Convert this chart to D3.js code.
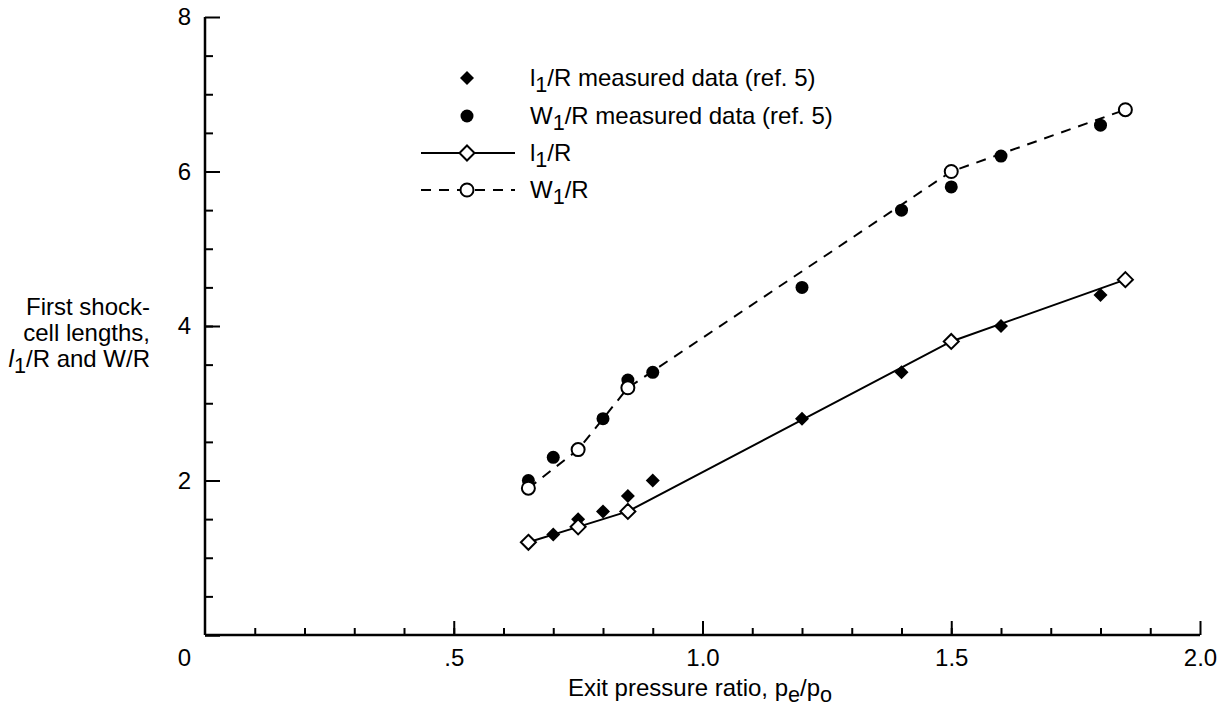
<!DOCTYPE html>
<html>
<head>
<meta charset="utf-8">
<script src="https://cdn.jsdelivr.net/npm/d3@7"></script>
<style>
  body { margin: 0; background: #fff; }
  svg text { font-family: "Liberation Sans", Arial, Helvetica, sans-serif; fill: #000; }
</style>
</head>
<body>
<svg id="chart" width="1225" height="710"></svg>
<script>
// ---- data ----
const measL = [[0.7, 1.3], [0.75, 1.5], [0.8, 1.6], [0.85, 1.8], [0.9, 2.0], [1.2, 2.8], [1.4, 3.4], [1.6, 4.0], [1.8, 4.4]];
const measW = [[0.65, 2.0], [0.7, 2.3], [0.8, 2.8], [0.85, 3.3], [0.9, 3.4], [1.2, 4.5], [1.4, 5.5], [1.5, 5.8], [1.6, 6.2], [1.8, 6.6]];
const calcL = [[0.65, 1.2], [0.75, 1.4], [0.85, 1.6], [1.5, 3.8], [1.85, 4.6]];
const calcW = [[0.65, 1.9], [0.75, 2.4], [0.85, 3.2], [1.5, 6.0], [1.85, 6.8]];
const xMajor = [0.5, 1.0, 1.5, 2.0];
const xMajorLabels = [".5", "1.0", "1.5", "2.0"];
const yMajor = [0, 2, 4, 6, 8];
const yMajorLabels = ["0", "2", "4", "6", "8"];

const FS = 24;
const svg = d3.select("#chart");
const x = d3.scaleLinear().domain([0, 2]).range([205, 1200]);
const y = d3.scaleLinear().domain([0, 8]).range([635, 17]);

// ---- axes ----
const gx = svg.append("g").attr("transform", `translate(0,${y(0)})`);
gx.call(d3.axisBottom(x).tickValues(d3.range(1, 20).map(d => d / 10)).tickSizeInner(-7).tickSizeOuter(0).tickFormat(""));
gx.call(g => g.select(".domain").remove());
const gx2 = svg.append("g").attr("transform", `translate(0,${y(0)})`);
gx2.call(d3.axisBottom(x).tickValues(xMajor).tickSizeInner(-14).tickSizeOuter(0)
  .tickPadding(14).tickFormat((d, i) => xMajorLabels[i]));
gx2.select(".domain").attr("d", `M${x(0)},0H${x(2)}`).attr("stroke-width", 2.5);

const gy = svg.append("g").attr("transform", `translate(${x(0)},0)`);
gy.call(d3.axisLeft(y).tickValues(d3.range(1, 16).map(d => d / 2)).tickSizeInner(-8).tickSizeOuter(0).tickFormat(""));
gy.call(g => g.select(".domain").remove());
const gy2 = svg.append("g").attr("transform", `translate(${x(0)},0)`);
gy2.call(d3.axisLeft(y).tickValues(yMajor).tickSizeInner(-15).tickSizeOuter(0)
  .tickPadding(14).tickFormat((d, i) => yMajorLabels[i]));
gy2.select(".domain").attr("d", `M0,${y(0)}V${y(8)}`).attr("stroke-width", 2.5);

svg.selectAll(".tick line").attr("stroke", "#000").attr("stroke-width", 2);
svg.selectAll(".tick text").attr("font-size", FS).attr("font-family", "Liberation Sans, Arial, sans-serif").attr("fill", "#000");
// corner "0" sits below the origin
gy2.selectAll(".tick text").filter(d => d === 0).attr("dy", "1.25em");
gy2.selectAll(".tick line").filter(d => d === 0).attr("stroke-width", 2.5);

// ---- lines ----
const line = d3.line().x(d => x(d[0])).y(d => y(d[1]));
svg.append("path").datum(calcL).attr("d", line).attr("fill", "none").attr("stroke", "#000").attr("stroke-width", 2);
svg.append("path").datum(calcW).attr("d", line).attr("fill", "none").attr("stroke", "#000").attr("stroke-width", 2).attr("stroke-dasharray", "10,8");

// ---- markers ----
const diamond = r => `M0,${-r}L${r},0L0,${r}L${-r},0Z`;
svg.append("g").selectAll("path").data(measL).join("path")
  .attr("transform", d => `translate(${x(d[0])},${y(d[1])})`).attr("d", diamond(7)).attr("fill", "#000");
svg.append("g").selectAll("circle").data(measW).join("circle")
  .attr("cx", d => x(d[0])).attr("cy", d => y(d[1])).attr("r", 6.5).attr("fill", "#000");
svg.append("g").selectAll("path").data(calcL).join("path")
  .attr("transform", d => `translate(${x(d[0])},${y(d[1])})`).attr("d", diamond(7.5))
  .attr("fill", "#fff").attr("stroke", "#000").attr("stroke-width", 2);
svg.append("g").selectAll("circle").data(calcW).join("circle")
  .attr("cx", d => x(d[0])).attr("cy", d => y(d[1])).attr("r", 6.5)
  .attr("fill", "#fff").attr("stroke", "#000").attr("stroke-width", 2);

// ---- legend ----
const legRows = [
  { main: "l", sub: "1", rest: "/R measured data (ref. 5)", kind: "fdiam" },
  { main: "W", sub: "1", rest: "/R measured data (ref. 5)", kind: "fcirc" },
  { main: "l", sub: "1", rest: "/R", kind: "odiam" },
  { main: "W", sub: "1", rest: "/R", kind: "ocirc" }
];
const legY = [78, 116, 153, 190];
const lg = svg.append("g");
legRows.forEach((r, i) => {
  const cy = legY[i], mx = 467;
  if (r.kind === "odiam" || r.kind === "ocirc") {
    lg.append("line").attr("x1", 421).attr("x2", 515).attr("y1", cy).attr("y2", cy)
      .attr("stroke", "#000").attr("stroke-width", 2)
      .attr("stroke-dasharray", r.kind === "ocirc" ? "10,8" : null);
  }
  if (r.kind === "fdiam") lg.append("path").attr("transform", `translate(${mx},${cy})`).attr("d", diamond(7)).attr("fill", "#000");
  if (r.kind === "fcirc") lg.append("circle").attr("cx", mx).attr("cy", cy).attr("r", 6.5).attr("fill", "#000");
  if (r.kind === "odiam") lg.append("path").attr("transform", `translate(${mx},${cy})`).attr("d", diamond(7.5)).attr("fill", "#fff").attr("stroke", "#000").attr("stroke-width", 2);
  if (r.kind === "ocirc") lg.append("circle").attr("cx", mx).attr("cy", cy).attr("r", 6.5).attr("fill", "#fff").attr("stroke", "#000").attr("stroke-width", 2);
  const t = lg.append("text").attr("x", 530).attr("y", cy + 8).attr("font-size", FS);
  t.append("tspan").text(r.main);
  t.append("tspan").attr("dy", 6).attr("font-size", FS * 0.9).text(r.sub);
  t.append("tspan").attr("dy", -6).text(r.rest);
});

// ---- axis titles ----
const yt = svg.append("text").attr("text-anchor", "end").attr("font-size", FS);
yt.append("tspan").attr("x", 150).attr("y", 315).text("First shock-");
yt.append("tspan").attr("x", 150).attr("y", 341).text("cell lengths,");
const l3 = svg.append("text").attr("text-anchor", "end").attr("font-size", FS).attr("x", 150).attr("y", 367);
l3.append("tspan").attr("font-style", "italic").text("l");
l3.append("tspan").attr("dy", 6).attr("font-size", FS * 0.9).text("1");
l3.append("tspan").attr("dy", -6).text("/R and W/R");

const xt = svg.append("text").attr("text-anchor", "middle").attr("font-size", FS).attr("x", 700).attr("y", 696);
xt.append("tspan").text("Exit pressure ratio, p");
xt.append("tspan").attr("dy", 6).attr("font-size", FS * 0.9).text("e");
xt.append("tspan").attr("dy", -6).text("/p");
xt.append("tspan").attr("dy", 6).attr("font-size", FS * 0.9).text("o");
</script>
</body>
</html>
